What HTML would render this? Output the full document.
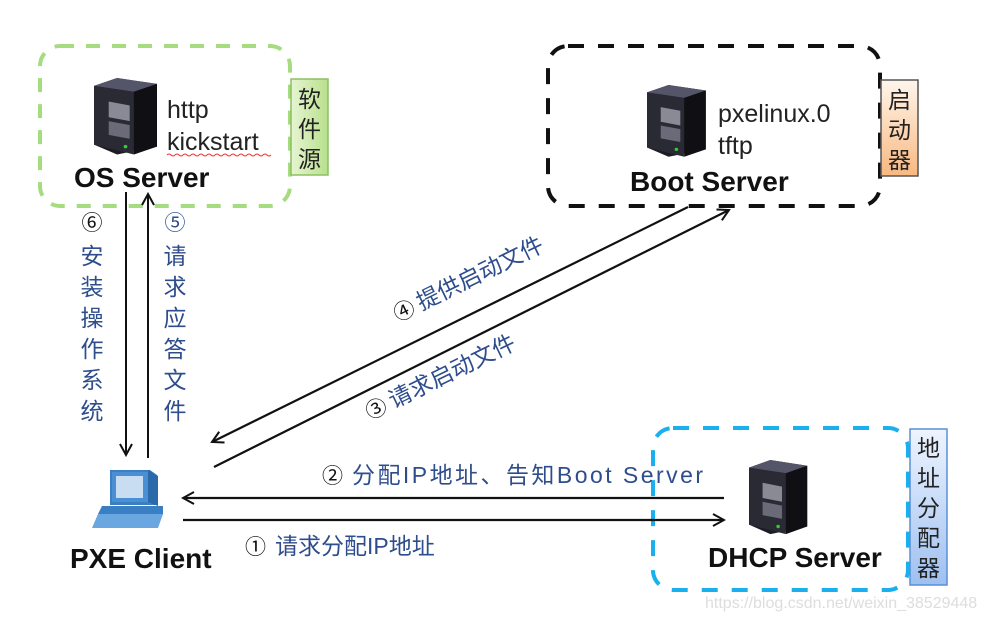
<!DOCTYPE html>
<html><head><meta charset="utf-8"><style>
html,body{margin:0;padding:0;background:#fff;}
svg{display:block;}
.cn{font-family:"Liberation Sans","Noto Sans CJK SC",sans-serif;}
.lbl{fill:#2e4d8c;font-size:23px;}
.bold{font-weight:bold;font-size:28px;fill:#111;}
.mono{font-size:25px;fill:#222;}
</style></head><body>
<svg width="986" height="622" viewBox="0 0 986 622" xmlns="http://www.w3.org/2000/svg" class="cn">
<defs>
<linearGradient id="g1" x1="0" y1="0" x2="1" y2="0"><stop offset="0" stop-color="#e6f5d2"/><stop offset="1" stop-color="#b8e08c"/></linearGradient>
<linearGradient id="g2" x1="0" y1="0" x2="0" y2="1"><stop offset="0" stop-color="#fff6ec"/><stop offset="1" stop-color="#f9b880"/></linearGradient>
<linearGradient id="g3" x1="0" y1="0" x2="0" y2="1"><stop offset="0" stop-color="#eef4ff"/><stop offset="1" stop-color="#9ec0f0"/></linearGradient>
<g id="server">
<path d="M0 8 L22 0 L60 6 L60 70 L22 78 L0 68 Z" fill="#1c1c24"/>
<path d="M0 8 L22 0 L60 6 L38 14 Z" fill="#55556a"/>
<path d="M0 8 L38 14 L38 78 L0 68 Z" fill="#2a2a34"/>
<path d="M38 14 L60 6 L60 70 L38 78 Z" fill="#0f0f14"/>
<path d="M14 24 L34 28 L34 44 L14 40 Z" fill="#8a8a96"/>
<path d="M14 44 L34 48 L34 62 L14 58 Z" fill="#6a6a78"/>
<circle cx="30" cy="70" r="1.8" fill="#3c3"/>
</g>
<marker id="ah" markerWidth="14" markerHeight="14" refX="12" refY="7" orient="auto" markerUnits="userSpaceOnUse">
<path d="M1 1 L12 7 L1 13" fill="none" stroke="#111" stroke-width="2"/>
</marker>
</defs>

<rect x="40" y="46" width="250" height="160" rx="20" fill="none" stroke="#a6dc80" stroke-width="4" stroke-dasharray="14 12"/>
<rect x="291" y="79" width="37" height="96" fill="url(#g1)" stroke="#8cc060" stroke-width="1.5"/>
<text x="309.5" y="107" text-anchor="middle" font-size="23" fill="#222">软</text>
<text x="309.5" y="137" text-anchor="middle" font-size="23" fill="#222">件</text>
<text x="309.5" y="167" text-anchor="middle" font-size="23" fill="#222">源</text>
<use href="#server" transform="translate(94,78) scale(1.05,0.98)"/>
<text x="167" y="118" class="mono">http</text>
<text x="167" y="150" class="mono">kickstart</text>
<path d="M167 155 q2 -2 4 0 t4 0 t4 0 t4 0 t4 0 t4 0 t4 0 t4 0 t4 0 t4 0 t4 0 t4 0 t4 0 t4 0 t4 0 t4 0 t4 0 t4 0 t4 0 t4 0 t4 0 t4 0 t4 0 t4 0 t4 0 t4 0" fill="none" stroke="#e33" stroke-width="1"/>
<text x="74" y="187" class="bold">OS Server</text>

<rect x="548" y="46" width="332" height="160" rx="20" fill="none" stroke="#111" stroke-width="4" stroke-dasharray="16 14"/>
<rect x="881" y="80" width="37" height="96" fill="url(#g2)" stroke="#555" stroke-width="1.5"/>
<text x="899.5" y="108" text-anchor="middle" font-size="23" fill="#222">启</text>
<text x="899.5" y="138" text-anchor="middle" font-size="23" fill="#222">动</text>
<text x="899.5" y="168" text-anchor="middle" font-size="23" fill="#222">器</text>
<use href="#server" transform="translate(647,85) scale(0.98,0.92)"/>
<text x="718" y="122" class="mono">pxelinux.0</text>
<text x="718" y="154" class="mono">tftp</text>
<text x="630" y="191" class="bold" font-size="29">Boot Server</text>

<rect x="653" y="428" width="255" height="162" rx="20" fill="none" stroke="#1ab0ee" stroke-width="4" stroke-dasharray="16 14"/>
<rect x="910" y="429" width="37" height="156" fill="url(#g3)" stroke="#5b8fd6" stroke-width="1.5"/>
<text x="928.5" y="456" text-anchor="middle" font-size="23" fill="#222">地</text>
<text x="928.5" y="486" text-anchor="middle" font-size="23" fill="#222">址</text>
<text x="928.5" y="516" text-anchor="middle" font-size="23" fill="#222">分</text>
<text x="928.5" y="546" text-anchor="middle" font-size="23" fill="#222">配</text>
<text x="928.5" y="576" text-anchor="middle" font-size="23" fill="#222">器</text>
<use href="#server" transform="translate(749,460) scale(0.97,0.95)"/>
<text x="708" y="567" class="bold">DHCP Server</text>
<text x="705" y="608" font-size="16" fill="#ddd">https://blog.csdn.net/weixin_38529448</text>

<g>
<path d="M110 470 L150 470 L157 475 L157 505 L110 505 Z" fill="#3a7fc4"/>
<rect x="112" y="472" width="36" height="30" fill="#4a8fd4"/>
<rect x="116" y="476" width="27" height="22" fill="#c8dcf2"/>
<path d="M148 470 L158 476 L158 506 L148 502 Z" fill="#2a6aaa"/>
<path d="M102 506 L163 506 L163 514 L98 514 Z" fill="#3a7fc4"/>
<path d="M98 514 L163 514 L158 528 L92 528 Z" fill="#6aa6e0"/>
</g>
<text x="70" y="568" class="bold">PXE Client</text>

<line x1="126" y1="192" x2="126" y2="455" stroke="#111" stroke-width="2" marker-end="url(#ah)"/>
<line x1="148" y1="458" x2="148" y2="194" stroke="#111" stroke-width="2" marker-end="url(#ah)"/>
<line x1="688" y1="207" x2="212" y2="442" stroke="#111" stroke-width="2.2" marker-end="url(#ah)"/>
<line x1="214" y1="467" x2="729" y2="210" stroke="#111" stroke-width="2.2" marker-end="url(#ah)"/>
<line x1="724" y1="498" x2="183" y2="498" stroke="#111" stroke-width="2.2" marker-end="url(#ah)"/>
<line x1="183" y1="520" x2="724" y2="520" stroke="#111" stroke-width="2.2" marker-end="url(#ah)"/>

<g class="lbl" text-anchor="middle">
<text x="92" y="230" font-size="21" fill="#111">⑥</text>
<text x="92" y="264">安</text><text x="92" y="295">装</text><text x="92" y="326">操</text>
<text x="92" y="357">作</text><text x="92" y="388">系</text><text x="92" y="419">统</text>
<text x="175" y="230" font-size="21">⑤</text>
<text x="175" y="264">请</text><text x="175" y="295">求</text><text x="175" y="326">应</text>
<text x="175" y="357">答</text><text x="175" y="388">文</text><text x="175" y="419">件</text>
</g>

<g transform="translate(398,322) rotate(-26)">
<text x="0" y="0" font-size="21" fill="#111">④</text>
<text x="26" y="0" class="lbl">提供启动文件</text>
</g>
<g transform="translate(370,420) rotate(-26)">
<text x="0" y="0" font-size="21" fill="#111">③</text>
<text x="26" y="0" class="lbl">请求启动文件</text>
</g>

<text x="322" y="483" font-size="21" fill="#111">②</text>
<text x="352" y="483" class="lbl" font-size="24" textLength="351">分配IP地址、告知Boot Server</text>
<text x="245" y="554" font-size="21" fill="#111">①</text>
<text x="275" y="554" class="lbl" font-size="24">请求分配IP地址</text>
</svg>
</body></html>
